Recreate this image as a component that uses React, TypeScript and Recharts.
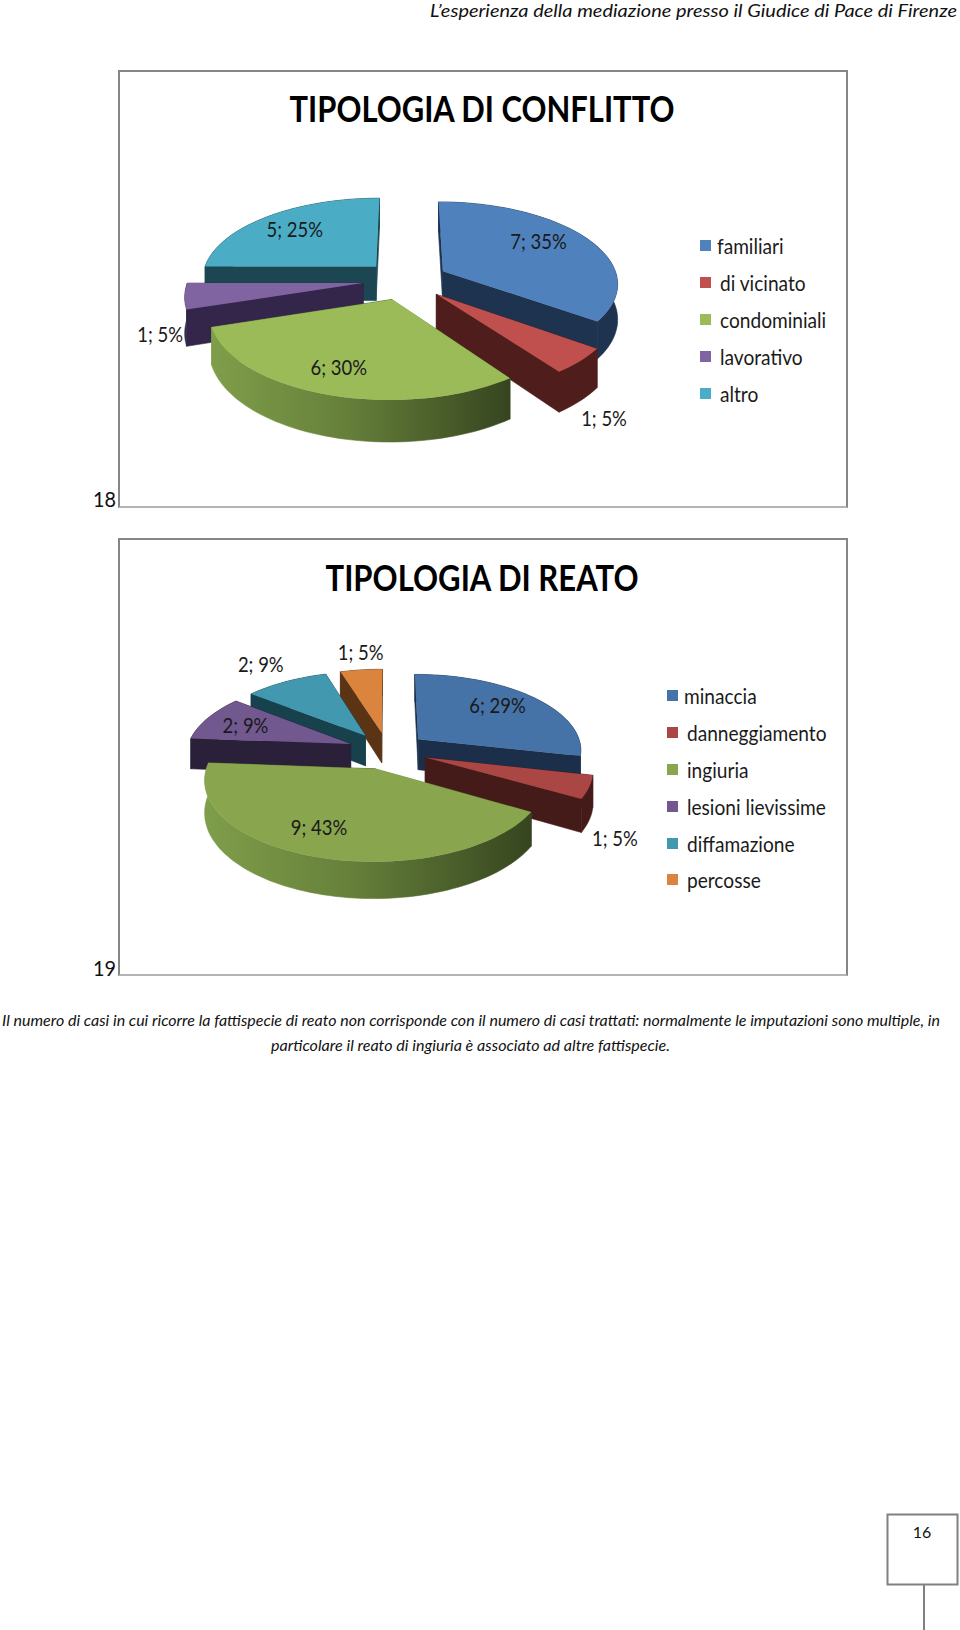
import { Legend, Pie, PieChart } from "recharts";

const conflictNames = ["familiari", "di vicinato", "condominiali", "lavorativo", "altro"];
const conflictValues = [7, 1, 6, 1, 5];
const conflictPercents = ["35%", "5%", "30%", "5%", "25%"];

const reatoNames = ["minaccia", "danneggiamento", "ingiuria", "lesioni lievissime", "diffamazione", "percosse"];
const reatoValues = [6, 1, 9, 2, 2, 1];
const reatoPercents = ["29%", "5%", "43%", "9%", "9%", "5%"];

const FONT = "Lato, Carlito, sans-serif";
const TILT = 0.463;
const PERSPECTIVE = 0.00078;

interface ChartSpec {
  id: string;
  title: string;
  titleWidth: number;
  titleY: number;
  top: number;
  height: number;
  names: string[];
  values: number[];
  percents: string[];
  tops: string[];
  sides: string[];
  paintOrder: string[];
  cx: number;
  cy: number;
  radius: number;
  explode: number;
  depth: number;
  labelAt: number[];
  labelNudge: number[][];
  legendLeft: number;
  legendTop: number;
}

const CHARTS: ChartSpec[] = [
  {
    id: "conflitto",
    title: "TIPOLOGIA DI CONFLITTO",
    titleWidth: 385,
    titleY: 50,
    top: 70,
    height: 438,
    names: conflictNames,
    values: conflictValues,
    percents: conflictPercents,
    tops: ["#4f81bd", "#c0504d", "#9bbb59", "#8064a2", "#4bacc6"],
    sides: ["#1d3350", "#4f1e1c", "url(#side-conflitto)", "#33264a", "#1c4752"],
    paintOrder: ["altro", "familiari", "lavorativo", "di vicinato", "condominiali"],
    cx: 285.5,
    cy: 208,
    radius: 175,
    explode: 42.6,
    depth: 35,
    labelAt: [0.65, 1.2, 0.65, 1.2, 0.65],
    labelNudge: [[1, -7.5], [-9, 43], [-12, 10], [12, 36], [-9, -3]],
    legendLeft: 580,
    legendTop: 155,
  },
  {
    id: "reato",
    title: "TIPOLOGIA DI REATO",
    titleWidth: 313,
    titleY: 51,
    top: 538,
    height: 438,
    names: reatoNames,
    values: reatoValues,
    percents: reatoPercents,
    tops: ["#4572a7", "#aa4643", "#89a54e", "#71588f", "#4198af", "#db843d"],
    sides: ["#1b2f4b", "#451b19", "url(#side-reato)", "#2b2039", "#17424d", "#5a3414"],
    paintOrder: ["percosse", "minaccia", "diffamazione", "lesioni lievissime", "danneggiamento", "ingiuria"],
    cx: 267.5,
    cy: 210.6,
    radius: 164,
    explode: 40,
    depth: 31,
    labelAt: [0.65, 1.2, 0.65, 0.65, 1.2, 1.2],
    labelNudge: [[3, -5], [-9, 45], [-20, 4], [-11, -1], [-11, -7], [3, -6]],
    legendLeft: 547,
    legendTop: 137,
  },
];

const RAD = Math.PI / 180;

// flat disc coordinates to screen, near side of the disc gets bigger
function project(cx: number, cy: number, u: number, v: number, drop = 0) {
  const f = 1 / (1 - PERSPECTIVE * v);
  return [cx + u * f, cy + TILT * v * f + drop * f];
}

function toPath(points: number[][]) {
  return "M" + points.map((p) => `${p[0].toFixed(1)},${p[1].toFixed(1)}`).join("L") + "Z";
}

function makeSlice(spec: ChartSpec, onlyName: string) {
  return function Slice(props: any) {
    const name = props.payload?.name ?? props.name;
    if (name !== onlyName) return <g />;
    const { cx, cy, outerRadius, startAngle, endAngle, fill } = props;
    const mid = ((startAngle + endAngle) / 2) * RAD;
    const ox = spec.explode * Math.cos(mid);
    const oy = -spec.explode * Math.sin(mid);
    const apex = project(cx, cy, ox, oy);
    const apexLow = project(cx, cy, ox, oy, spec.depth);
    const steps = Math.max(2, Math.ceil(Math.abs(endAngle - startAngle) / 2));
    const rim: number[][] = [];
    const rimLow: number[][] = [];
    for (let i = 0; i <= steps; i++) {
      const a = (startAngle + ((endAngle - startAngle) * i) / steps) * RAD;
      const u = ox + outerRadius * Math.cos(a);
      const v = oy - outerRadius * Math.sin(a);
      rim.push(project(cx, cy, u, v));
      rimLow.push(project(cx, cy, u, v, spec.depth));
    }
    const side = spec.sides[spec.names.indexOf(name)];
    const last = rim.length - 1;
    return (
      <g>
        <path d={toPath([apex, rim[0], rimLow[0], apexLow])} fill={side} stroke={side} strokeWidth={0.6} />
        <path d={toPath([apex, rim[last], rimLow[last], apexLow])} fill={side} stroke={side} strokeWidth={0.6} />
        <path d={toPath([...rim, ...[...rimLow].reverse()])} fill={side} stroke={side} strokeWidth={0.6} />
        <path d={toPath([apex, ...rim])} fill={fill} />
      </g>
    );
  };
}

function makeLabel(spec: ChartSpec) {
  return function SliceLabel(props: any) {
    const { cx, cy, midAngle, outerRadius, index, value } = props;
    const r = spec.explode + spec.labelAt[index] * outerRadius;
    const a = midAngle * RAD;
    const [x, y] = project(cx, cy, r * Math.cos(a), -r * Math.sin(a));
    const [dx, dy] = spec.labelNudge[index];
    return (
      <text
        transform={`translate(${x + dx} ${y + dy}) scale(0.88 1)`}
        dy="0.35em"
        textAnchor="middle"
        fontFamily={FONT}
        fontSize={21}
        fill="#1a1a1a"
      >
        {`${value}; ${spec.percents[index]}`}
      </text>
    );
  };
}

function ChartLegend({ spec }: { spec: ChartSpec }) {
  return (
    <div style={{ fontFamily: FONT, fontSize: 21, color: "#1a1a1a" }}>
      {spec.names.map((name, i) => (
        <div key={name} style={{ display: "flex", alignItems: "center", height: 36.9, whiteSpace: "nowrap" }}>
          <span style={{ width: 11, height: 11, background: spec.tops[i], marginRight: i === 0 ? 6 : 9 }} />
          <span style={{ display: "inline-block", transform: "scaleX(0.91)", transformOrigin: "left center" }}>{name}</span>
        </div>
      ))}
    </div>
  );
}

function Pie3DChart({ spec }: { spec: ChartSpec }) {
  const data = spec.names.map((name, i) => ({ name, value: spec.values[i], fill: spec.tops[i] }));
  return (
    <div
      style={{
        position: "absolute",
        left: 118,
        top: spec.top,
        width: 730,
        height: spec.height,
        boxSizing: "border-box",
        borderTop: "2px solid #868686",
        borderLeft: "2px solid #868686",
        borderRight: "2px solid #868686",
        borderBottom: "2px solid #b4b4b4",
        background: "#fff",
      }}
    >
      <PieChart
        width={726}
        height={spec.height - 4}
        margin={{ top: 0, right: 0, bottom: 0, left: 0 }}
      >
        <defs>
          <linearGradient id={`side-${spec.id}`} x1="0" y1="0" x2="1" y2="0">
            <stop offset="0%" stopColor="#7f9e4a" />
            <stop offset="45%" stopColor="#66803a" />
            <stop offset="100%" stopColor="#36451f" />
          </linearGradient>
        </defs>
        <text
          x={362}
          y={spec.titleY}
          textAnchor="middle"
          fontFamily={FONT}
          fontWeight={700}
          fontSize={36}
          textLength={spec.titleWidth}
          lengthAdjust="spacingAndGlyphs"
          fill="#000"
        >
          {spec.title}
        </text>
        {spec.paintOrder.map((name) => (
          <Pie
            key={name}
            data={data}
            dataKey="value"
            nameKey="name"
            cx={spec.cx}
            cy={spec.cy}
            outerRadius={spec.radius}
            startAngle={90}
            endAngle={-270}
            stroke="none"
            isAnimationActive={false}
            shape={makeSlice(spec, name)}
          />
        ))}
        <Pie
          data={data}
          dataKey="value"
          nameKey="name"
          cx={spec.cx}
          cy={spec.cy}
          outerRadius={spec.radius}
          startAngle={90}
          endAngle={-270}
          stroke="none"
          isAnimationActive={false}
          shape={() => <g />}
          labelLine={false}
          label={makeLabel(spec)}
        />
        <Legend
          content={() => <ChartLegend spec={spec} />}
          wrapperStyle={{ left: spec.legendLeft, top: spec.legendTop, width: 180, bottom: "auto" }}
        />
      </PieChart>
    </div>
  );
}

export default function App() {
  return (
    <div style={{ position: "absolute", left: 0, top: 0, width: 960, height: 1630, background: "#fff", overflow: "hidden" }}>
      <svg width={960} height={1630} style={{ position: "absolute", left: 0, top: 0 }}>
        <g fontFamily={FONT} fill="#111">
          <text x={430} y={17} fontSize={18} fontStyle="italic" textLength={527} lengthAdjust="spacingAndGlyphs">
            L’esperienza della mediazione presso il Giudice di Pace di Firenze
          </text>
          <text x={93} y={507} fontSize={21} textLength={23} lengthAdjust="spacingAndGlyphs">18</text>
          <text x={93} y={976} fontSize={21} textLength={23} lengthAdjust="spacingAndGlyphs">19</text>
          <text x={2} y={1026} fontSize={15} fontStyle="italic" textLength={938} lengthAdjust="spacingAndGlyphs">
            Il numero di casi in cui ricorre la fattispecie di reato non corrisponde con il numero di casi trattati: normalmente le imputazioni sono multiple, in
          </text>
          <text x={271} y={1051} fontSize={15} fontStyle="italic" textLength={399} lengthAdjust="spacingAndGlyphs">
            particolare il reato di ingiuria è associato ad altre fattispecie.
          </text>
          <text x={922} y={1538} fontSize={16} textAnchor="middle">16</text>
        </g>
        <rect x={887.5} y={1514.5} width={70} height={70} fill="none" stroke="#808080" strokeWidth={2} />
        <line x1={924} y1={1585} x2={924} y2={1630} stroke="#808080" strokeWidth={2} />
      </svg>
      {CHARTS.map((spec) => (
        <Pie3DChart key={spec.id} spec={spec} />
      ))}
    </div>
  );
}
